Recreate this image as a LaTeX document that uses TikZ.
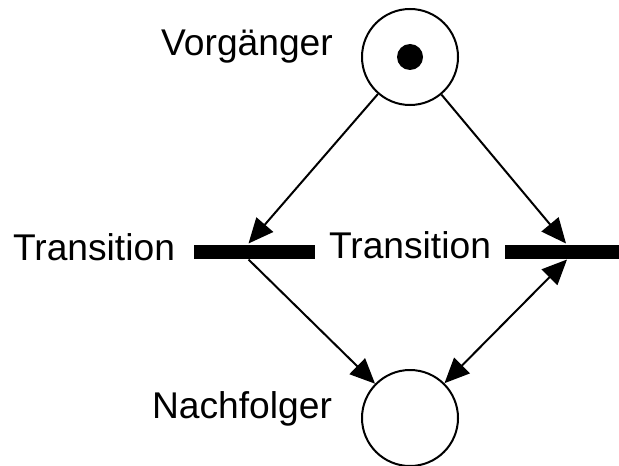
\documentclass[tikz,border=0pt]{standalone}
\usepackage{fontspec}
\setmainfont{Liberation Sans}
\usetikzlibrary{arrows.meta}

\begin{document}
\begin{tikzpicture}[x=0.5pt, y=-0.5pt, line width=1pt,
    >={Triangle[length=12.5pt,width=11pt]},
    place/.style={circle, draw, minimum size=48pt, inner sep=0pt},
    token/.style={circle, fill, minimum size=13pt, inner sep=0pt},
    trans/.style={rectangle, fill, minimum width=60.5pt, minimum height=7pt, inner sep=0pt},
    lbl/.style={font=\fontsize{18.6}{22}\selectfont, anchor=base, inner sep=0pt}]
    % Frame
    \clip (0,0) rectangle (619,465);

    % Places {vorg, nachf} and token
    \node [place]   (vorg)   at (410,57)    {};
    \node [token]   (tok)    at (410,57)    {};
    \node [place]   (nachf)  at (410,418)   {};

    % Transitions {t1, t2}
    \node [trans]   (t1)     at (254.5,251.5) {};
    \node [trans]   (t2)     at (565,251.5)   {};

    % Labels
    \node [lbl]     (lvorg)  at (247,56)    {Vorgänger};
    \node [lbl]     (lnachf) at (242,418)   {Nachfolger};
    \node [lbl]     (lt1)    at (94,260)    {Transition};
    \node [lbl]     (lt2)    at (410,258)   {Transition};

    % Arcs
    \draw [->]  (vorg) -- ([xshift=-3pt]t1.north);
    \draw [->]  (vorg) -- ([xshift=0.5pt]t2.north);
    \draw [->]  ([xshift=-3pt]t1.south) -- (nachf);
    \draw [<->] ([xshift=1pt]t2.south) -- (nachf);
\end{tikzpicture}
\end{document}
